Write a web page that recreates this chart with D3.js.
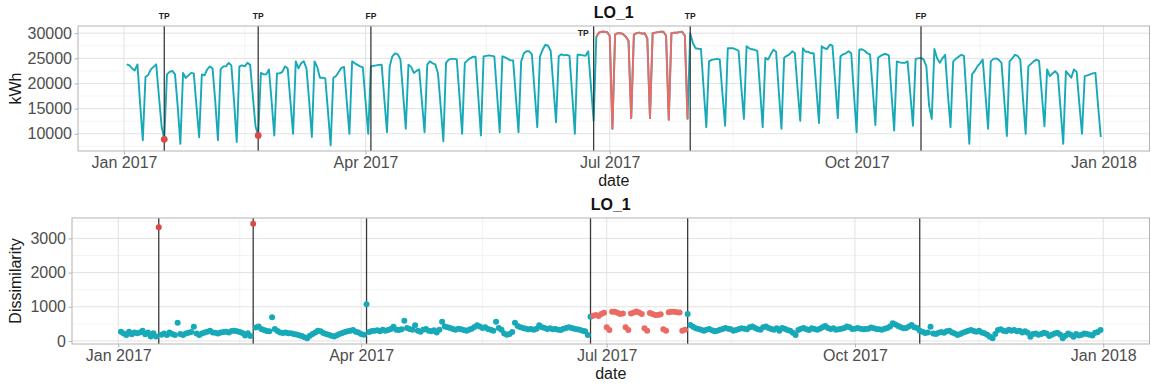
<!DOCTYPE html>
<html lang="en">
<head>
<meta charset="UTF-8">
<title>LO_1</title>
<style>
  body { margin: 0; background: #fff; }
  text { font-family: "Liberation Sans", Arial, Helvetica, sans-serif; }
</style>
</head>
<body>
<script src="https://cdn.jsdelivr.net/npm/d3@7/dist/d3.min.js"></script>
<script>
var width = 1151, height = 385;

// daily series, Mon 2017-01-02 .. Sun 2017-12-31, one row per week (Mon..Sun)
var firstDay = "2017-01-02";
var kwh = [
  23800,23600,23000,22600,23800,16000,8700,
  21300,21700,22800,23300,23800,17500,11500,
  8900,21800,22300,22500,21800,15500,8000,
  22100,21100,21600,22100,22000,15500,9300,
  21800,21600,22800,23400,23000,16500,8700,
  22800,23400,23400,24100,23600,16500,8350,
  23400,23600,23400,24100,23700,17500,11500,
  9650,22100,21800,21800,22800,16500,9650,
  22000,22000,22300,23400,23000,16500,10000,
  24400,23000,24000,24400,23000,16500,9350,
  24400,23300,21150,21150,21000,14500,7700,
  21150,21500,22300,23100,23300,16500,10000,
  24400,24000,23700,23400,23200,16500,10000,
  23400,23500,23600,23700,23750,17000,10300,
  23400,25400,26000,25800,24800,18000,11000,
  23750,23300,22100,22500,22800,16500,10300,
  23750,24400,24000,23800,22000,15500,8500,
  24100,24750,24900,24900,24800,17500,10000,
  24100,24600,25000,25300,25300,17500,9650,
  25400,25500,25600,25500,25400,18000,10300,
  25400,25200,24900,24600,24600,17500,10300,
  24400,26000,26400,26400,25800,18500,11300,
  25400,26700,27700,27500,26500,19500,12300,
  25400,25800,25600,25700,25500,18000,10000,
  25700,25700,25600,25500,26400,19500,12600,
  29300,30100,30300,30300,30200,29500,11000,
  29700,30000,30000,29800,29300,28500,13100,
  29700,30000,30100,29900,30000,29000,13100,
  30000,30100,30200,30300,30300,29500,12800,
  30000,30100,30100,30200,30300,29500,12950,
  30000,28000,27000,26900,26850,19000,11300,
  24400,24700,24800,24900,24800,18000,11600,
  27000,27000,27000,26800,26500,19500,12950,
  27400,27000,26800,26700,26500,19000,11300,
  25100,24750,25800,26700,26300,18500,11000,
  25100,25500,25800,26400,26000,19000,12600,
  27000,26300,26300,26000,26000,19000,12150,
  27400,27000,26850,27700,27500,20500,13100,
  25400,25800,26000,26400,26000,18000,10300,
  26700,26800,26500,26000,25800,19000,11750,
  25100,25500,25800,25850,25600,18000,10650,
  24400,24200,24100,24100,24400,18000,11600,
  24900,25000,25100,24750,23400,15600,12950,
  26850,25000,24100,25000,25700,18000,11300,
  24400,24900,25300,25700,25500,17000,8000,
  21800,22500,23400,24000,24750,18000,11000,
  24400,24900,25000,24700,24100,17000,9550,
  24400,25000,25700,25500,24700,17000,10000,
  23400,23900,24400,24750,24500,18000,11500,
  22800,21450,22000,22450,21800,15000,8000,
  22450,21800,21150,22800,22300,16000,10000,
  21450,21600,21800,22000,22100,15500,9350
];
var dissim = [
  270,220,175,270,195,250,225,
  245,300,195,245,130,225,130,
  3330,180,220,175,250,200,175,
  534,200,175,220,240,260,417,
  220,175,220,250,270,300,250,
  240,220,250,260,270,250,290,
  300,280,260,230,160,225,146,
  3430,390,420,350,320,290,280,
  690,350,290,250,230,250,225,
  223,200,185,165,146,107,78,
  150,200,250,300,280,230,200,
  180,150,130,170,200,230,260,
  280,300,320,270,250,200,180,
  1070,260,290,300,310,280,330,
  300,320,350,417,330,320,340,
  590,380,350,330,460,300,270,
  330,350,300,280,310,250,330,
  560,420,400,380,350,330,360,
  340,320,300,330,360,410,460,
  420,380,400,350,330,300,560,
  380,330,220,180,200,260,530,
  440,400,380,360,340,350,330,
  360,460,400,380,350,370,340,
  350,330,320,360,380,400,380,
  360,340,330,300,280,175,708,
  740,757,728,786,825,398,320,
  854,854,825,786,800,398,320,
  800,830,860,830,790,369,301,
  820,790,760,760,780,340,301,
  840,854,854,840,830,301,330,
  786,466,417,369,350,330,300,
  330,350,310,280,300,330,350,
  380,360,340,300,320,350,370,
  360,340,400,420,380,340,330,
  400,420,380,350,330,370,300,
  380,360,320,300,240,175,320,
  360,380,340,320,370,350,330,
  360,400,440,380,350,370,330,
  340,360,380,420,400,350,360,
  380,360,340,350,360,390,370,
  350,340,330,360,380,420,515,
  480,440,400,370,380,420,466,
  400,380,300,270,230,250,417,
  220,204,240,260,243,280,300,
  250,220,175,200,240,272,300,
  320,290,270,300,250,223,180,
  126,78,200,320,340,300,280,
  330,300,320,280,300,250,280,
  240,126,200,220,180,200,243,
  220,146,180,220,243,190,78,
  150,220,180,126,200,160,180,
  220,200,180,160,240,260,320
];

// anomalies (red)
var redDays = ["2017-01-16", "2017-02-20"];
var redPeriod = ["2017-06-26", "2017-07-30"];

// detections
var eventDays = ["2017-01-16", "2017-02-20", "2017-04-03", "2017-06-25", "2017-07-31", "2017-10-25"];
var eventLabels = ["TP", "TP", "FP", "TP", "TP", "FP"];

// axes
var xTicks = ["2017-01-01", "2017-04-01", "2017-07-01", "2017-10-01", "2018-01-01"];
var xMinor = ["2017-02-15", "2017-05-16", "2017-08-16", "2017-11-16"];
var kwhTicks = [10000, 15000, 20000, 25000, 30000];
var kwhMinor = [7500, 12500, 17500, 22500, 27500];
var disTicks = [0, 1000, 2000, 3000];
var disMinor = [500, 1500, 2500, 3500];

var teal = "#17a9b8", red = "#ec6a64", redDot = "#dd4a45";

var parse = d3.timeParse("%Y-%m-%d");
var day0 = parse(firstDay);
var days = d3.timeDay.range(day0, d3.timeDay.offset(day0, kwh.length));
var p0 = parse(redPeriod[0]), p1 = parse(redPeriod[1]);
var singleRed = redDays.map(function(s){ return +parse(s); });
function inPeriod(d){ return d >= p0 && d <= p1; }
function isRed(d){ return inPeriod(d) || singleRed.indexOf(+d) >= 0; }

var rows = days.map(function(d, i){ return {date: d, kwh: kwh[i], dis: dissim[i], red: isRed(d)}; });

var svg = d3.select("body").append("svg")
  .attr("width", width).attr("height", height);

function expand(ext){
  var s = (ext[1] - ext[0]) * 0.05;
  return [ext[0] - s, ext[1] + s];
}

function panel(p){
  var g = svg.append("g");
  var xd = expand(d3.extent(days, function(d){ return +d; }));
  var x = d3.scaleTime().domain([new Date(xd[0]), new Date(xd[1])]).range([p.left, p.right]);
  var y = d3.scaleLinear().domain(expand(d3.extent(p.values))).range([p.bottom, p.top]);

  // minor grid
  g.selectAll(".vmin").data(xMinor.map(parse)).join("line")
    .attr("x1", x).attr("x2", x).attr("y1", p.top).attr("y2", p.bottom)
    .attr("stroke", "#f0f0f0").attr("stroke-width", 0.8);
  g.selectAll(".hmin").data(p.minor).join("line")
    .attr("x1", p.left).attr("x2", p.right).attr("y1", y).attr("y2", y)
    .attr("stroke", "#f0f0f0").attr("stroke-width", 0.8);
  // major grid
  g.selectAll(".vmaj").data(xTicks.map(parse)).join("line")
    .attr("x1", x).attr("x2", x).attr("y1", p.top).attr("y2", p.bottom)
    .attr("stroke", "#e2e2e2").attr("stroke-width", 1);
  g.selectAll(".hmaj").data(p.ticks).join("line")
    .attr("x1", p.left).attr("x2", p.right).attr("y1", y).attr("y2", y)
    .attr("stroke", "#e2e2e2").attr("stroke-width", 1);

  var xa = g.append("g").attr("transform", "translate(0," + p.bottom + ")")
    .call(d3.axisBottom(x).tickValues(xTicks.map(parse)).tickFormat(d3.timeFormat("%b %Y"))
      .tickSize(3.5).tickPadding(2.5));
  var ya = g.append("g").attr("transform", "translate(" + p.left + ",0)")
    .call(d3.axisLeft(y).tickValues(p.ticks).tickFormat(d3.format("d")).tickSize(3.5).tickPadding(2.5));
  [xa, ya].forEach(function(a){
    a.select(".domain").remove();
    a.selectAll(".tick line").attr("stroke", "#b3b3b3");
    a.selectAll(".tick text").attr("fill", "#4d4d4d").style("font-size", "16px");
  });

  g.append("text").attr("x", (p.left + p.right) / 2).attr("y", p.bottom + 35)
    .attr("text-anchor", "middle").attr("fill", "#1a1a1a").style("font-size", "16px").text("date");
  g.append("text").attr("transform", "translate(21," + (p.top + p.bottom) / 2 + ")rotate(-90)")
    .attr("text-anchor", "middle").attr("fill", "#1a1a1a").style("font-size", "16px").text(p.ylabel);
  g.append("text").attr("x", (p.left + p.right) / 2).attr("y", p.top - 8)
    .attr("text-anchor", "middle").attr("font-weight", "bold").attr("fill", "#111")
    .style("font-size", "16px").text("LO_1");

  return {g: g, x: x, y: y};
}

function vlines(P, p){
  P.g.selectAll(".ev").data(eventDays.map(parse)).join("line")
    .attr("x1", P.x).attr("x2", P.x).attr("y1", p.top).attr("y2", p.bottom)
    .attr("stroke", "#3a3a3a").attr("stroke-width", 1.3);
}

function border(P, p){
  P.g.append("rect").attr("x", p.left).attr("y", p.top)
    .attr("width", p.right - p.left).attr("height", p.bottom - p.top)
    .attr("fill", "none").attr("stroke", "#b3b3b3").attr("stroke-width", 1);
}

// ---- top: kWh
var pt = {left: 78, right: 1149.5, top: 26, bottom: 151, values: kwh,
          ticks: kwhTicks, minor: kwhMinor, ylabel: "kWh"};
var T = panel(pt);
var line = d3.line().x(function(d){ return T.x(d.date); }).y(function(d){ return T.y(d.kwh); });
T.g.append("path").datum(rows).attr("d", line)
  .attr("fill", "none").attr("stroke", teal).attr("stroke-width", 1.9).attr("stroke-linejoin", "round");
T.g.append("path").datum(rows.filter(function(d){ return inPeriod(d.date); })).attr("d", line)
  .attr("fill", "none").attr("stroke", red).attr("stroke-width", 1.9).attr("stroke-linejoin", "round");
vlines(T, pt);
T.g.selectAll(".rd").data(rows.filter(function(d){ return d.red && !inPeriod(d.date); })).join("circle")
  .attr("cx", function(d){ return T.x(d.date); }).attr("cy", function(d){ return T.y(d.kwh); })
  .attr("r", 3.4).attr("fill", redDot);
border(T, pt);
// detection labels; the one opening the red period sits inside, left of its line
T.g.selectAll(".lab").data(eventDays).join("text")
  .attr("x", function(d, i){ return i === 3 ? T.x(parse(d)) - 5 : T.x(parse(d)); })
  .attr("y", function(d, i){ return i === 3 ? 36 : 19; })
  .attr("text-anchor", function(d, i){ return i === 3 ? "end" : "middle"; })
  .attr("font-weight", "bold").attr("fill", "#222").style("font-size", "8.5px")
  .text(function(d, i){ return eventLabels[i]; });

// ---- bottom: dissimilarity
var pb = {left: 72, right: 1149.5, top: 218, bottom: 344, values: dissim,
          ticks: disTicks, minor: disMinor, ylabel: "Dissimilarity"};
var B = panel(pb);
vlines(B, pb);
B.g.selectAll(".pt").data(rows).join("circle")
  .attr("cx", function(d){ return B.x(d.date); }).attr("cy", function(d){ return B.y(d.dis); })
  .attr("r", 3)
  .attr("fill", function(d){ return d.red ? (inPeriod(d.date) ? red : redDot) : teal; });
border(B, pb);
</script>
</body>
</html>
